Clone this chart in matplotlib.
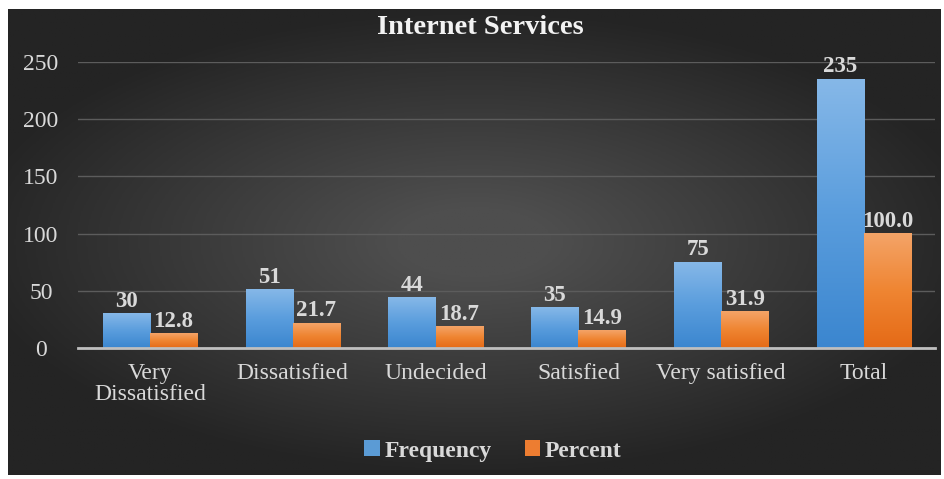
import numpy as np
import matplotlib
matplotlib.use("Agg")
import matplotlib.pyplot as plt
from matplotlib.colors import LinearSegmentedColormap
from matplotlib.patches import Patch

categories = ["Very\nDissatisfied", "Dissatisfied", "Undecided", "Satisfied",
              "Very satisfied", "Total"]
frequency = [30, 51, 44, 35, 75, 235]
percent = [12.8, 21.7, 18.7, 14.9, 31.9, 100.0]
yticks = [0, 50, 100, 150, 200, 250]

plt.rcParams["font.family"] = ["Liberation Serif", "DejaVu Serif"]
text_color = "#d9d9d9"

fig = plt.figure(figsize=(9.45, 4.79), dpi=100, facecolor="white")

# dark panel with a soft radial glow in the middle
bg = fig.add_axes([8 / 945, 4 / 479, 933 / 945, 466 / 479])
bg.set_axis_off()
yy, xx = np.mgrid[-1:1:300j, -1:1:600j]
r = np.sqrt((xx / 1.1) ** 2 + (yy / 1.0) ** 2)
glow = np.clip(1 - r, 0, 1)
bg_cmap = LinearSegmentedColormap.from_list("bg", ["#242424", "#4e4e4e"])
bg.imshow(glow, cmap=bg_cmap, aspect="auto", extent=[0, 1, 0, 1], vmin=0, vmax=0.85)
bg.set_xlim(0, 1)
bg.set_ylim(0, 1)

ax = fig.add_axes([78.5 / 945, (479 - 348) / 479, 857 / 945, 286 / 479])
ax.patch.set_alpha(0)

x = np.arange(len(categories))
w = 0.33
blue_cmap = LinearSegmentedColormap.from_list("blue", ["#3b86cf", "#5a9ddd", "#86b8e8"])
orange_cmap = LinearSegmentedColormap.from_list("orange", ["#e56a16", "#ef8532", "#f4a468"])

grad = np.linspace(0, 1, 256).reshape(-1, 1)
bars_f = ax.bar(x - w / 2, frequency, w, color="#5b9bd5", zorder=2)
bars_p = ax.bar(x + w / 2, percent, w, color="#ed7d31", zorder=2)
for bars, cmap in [(bars_f, blue_cmap), (bars_p, orange_cmap)]:
    for b in bars:
        x0, y0 = b.get_x(), b.get_y()
        ax.imshow(grad, cmap=cmap, origin="lower", aspect="auto", zorder=3,
                  extent=[x0, x0 + b.get_width(), y0, y0 + b.get_height()])

for xi, v in zip(x, frequency):
    ax.text(xi - w / 2, v + 1.5, f"{v}", ha="center", va="bottom", color=text_color,
            fontsize=16.5, fontweight="bold", zorder=4, clip_on=False)
for xi, v in zip(x, percent):
    ax.text(xi + w / 2, v + 1.5, f"{v:.1f}", ha="center", va="bottom", color=text_color,
            fontsize=16.5, fontweight="bold", zorder=4, clip_on=False)

ax.set_xlim(-0.5, len(categories) - 0.5)
ax.set_ylim(0, 250)
ax.set_yticks(yticks)
ax.set_yticklabels([str(t) for t in yticks], ha="center")
ax.set_xticks(x)
ax.set_xticklabels(categories, linespacing=1.0)
ax.tick_params(axis="y", length=0, pad=27, labelsize=17, labelcolor=text_color)
ax.tick_params(axis="x", length=0, pad=11, labelsize=17, labelcolor=text_color)
ax.grid(axis="y", color="#5c5c5c", linewidth=1, zorder=0)
for s in ["top", "right", "left"]:
    ax.spines[s].set_visible(False)
ax.spines["bottom"].set_color("#bfbfbf")
ax.spines["bottom"].set_linewidth(2)
ax.spines["bottom"].set_zorder(5)

fig.text(480 / 945, 1 - 27 / 479, "Internet Services", ha="center", va="center",
         color="#f2f2f2", fontsize=20.5, fontweight="bold")

handles = [Patch(facecolor="#5b9bd5", label="Frequency"),
           Patch(facecolor="#ed7d31", label="Percent")]
leg = fig.legend(handles=handles, loc="center", bbox_to_anchor=(493 / 945, 1 - 451 / 479),
                 ncol=2, frameon=False, handlelength=0.65, handleheight=0.65,
                 handletextpad=0.2, columnspacing=1.4,
                 prop={"weight": "bold", "size": 17})
for t in leg.get_texts():
    t.set_color(text_color)

fig.savefig("out.png", dpi=100, facecolor="white")
